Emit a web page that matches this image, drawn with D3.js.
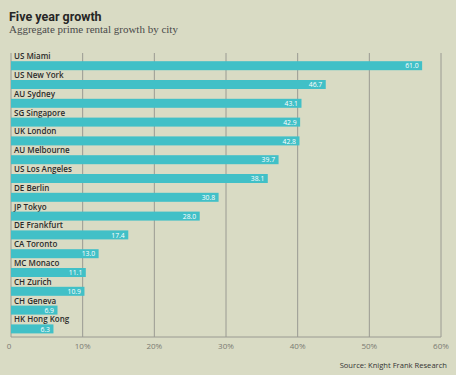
<!DOCTYPE html>
<html><head><meta charset="utf-8">
<script src="https://cdn.jsdelivr.net/npm/d3@7/dist/d3.min.js"></script>
<style>
html,body{margin:0;padding:0;background:#d9dbc4;}
svg{display:block;}
</style></head>
<body>
<script>
const cities = ["US Miami","US New York","AU Sydney","SG Singapore","UK London","AU Melbourne","US Los Angeles","DE Berlin","JP Tokyo","DE Frankfurt","CA Toronto","MC Monaco","CH Zurich","CH Geneva","HK Hong Kong"];
const growth = [61.0,46.7,43.1,42.9,42.8,39.7,38.1,30.8,28.0,17.4,13.0,11.1,10.9,6.9,6.3];
const valueLabels = ["61.0","46.7","43.1","42.9","42.8","39.7","38.1","30.8","28.0","17.4","13.0","11.1","10.9","6.9","6.3"];
const ticks = [0,10,20,30,40,50,60];
const tickLabels = ["0","10%","20%","30%","40%","50%","60%"];

const W = 456, H = 375;
const mLeft = 11, mRight = 441, mTop = 53, mBottom = 337;
const sans = "'Open Sans', 'Liberation Sans', sans-serif";

const svg = d3.select("body").append("svg").attr("width", W).attr("height", H);
svg.append("rect").attr("width", W).attr("height", H).attr("fill", "#d9dbc4");

// axis scale (as printed)
const xAxis = d3.scaleLinear().domain([0, 60]).range([mLeft, mRight]);
// bar scale (bars in the original are drawn at ~94% of the printed axis)
const xBar = d3.scaleLinear().domain([0, 63.8]).range([mLeft, mRight]);
const y = d3.scaleBand().domain(cities).range([mTop, mTop + 15 * 18.8]).paddingInner(0);

// title
svg.append("text").attr("x", 9).attr("y", 21)
  .attr("font-family", "Roboto, 'Liberation Sans', sans-serif").attr("font-weight", 700)
  .attr("font-size", 12.5).attr("fill", "#262626").text("Five year growth");
svg.append("text").attr("x", 9).attr("y", 32.5)
  .attr("font-family", "'Liberation Serif', 'DejaVu Serif', serif")
  .attr("font-size", 11).attr("fill", "#4a4a4a").text("Aggregate prime rental growth by city");

// gridlines
svg.append("g").selectAll("line").data(ticks.slice(1)).join("line")
  .attr("x1", d => xAxis(d)).attr("x2", d => xAxis(d))
  .attr("y1", mTop).attr("y2", mBottom)
  .attr("stroke", "#9a9a92").attr("stroke-width", 1);

// left axis & bottom axis lines
svg.append("line").attr("x1", mLeft).attr("x2", mLeft).attr("y1", mTop).attr("y2", mBottom)
  .attr("stroke", "#9a9a92").attr("stroke-width", 1);
svg.append("line").attr("x1", mLeft).attr("x2", mRight).attr("y1", mBottom).attr("y2", mBottom)
  .attr("stroke", "#9a9a92").attr("stroke-width", 1);

// category labels
svg.append("g").selectAll("text").data(cities).join("text")
  .attr("x", 14).attr("y", d => y(d) + 6.2)
  .attr("font-family", sans).attr("font-weight", 600)
  .attr("font-size", 8).attr("fill", "#2b2b2b").text(d => d);

// bars
const bh = 9;
svg.append("g").selectAll("rect").data(growth).join("rect")
  .attr("x", mLeft).attr("y", (d, i) => y(cities[i]) + 8.2)
  .attr("width", d => xBar(d) - mLeft).attr("height", bh)
  .attr("fill", "#41c0c7");

// value labels
svg.append("g").selectAll("text").data(growth).join("text")
  .attr("x", d => xBar(d) - 3.5).attr("y", (d, i) => y(cities[i]) + 8.2 + 7.2)
  .attr("text-anchor", "end")
  .attr("font-family", sans)
  .attr("font-size", 6.8).attr("fill", "#ffffff").text((d, i) => valueLabels[i]);

// tick labels
svg.append("g").selectAll("text").data(ticks).join("text")
  .attr("x", d => xAxis(d) - (d === 0 ? 2 : 0)).attr("y", 348.5)
  .attr("text-anchor", "middle")
  .attr("font-family", sans)
  .attr("font-size", 8).attr("fill", "#7a7a72").text((d, i) => tickLabels[i]);

// source
svg.append("text").attr("x", 447).attr("y", 368)
  .attr("text-anchor", "end")
  .attr("font-family", sans)
  .attr("font-size", 7.6).attr("fill", "#333").text("Source: Knight Frank Research");
</script>
</body></html>
